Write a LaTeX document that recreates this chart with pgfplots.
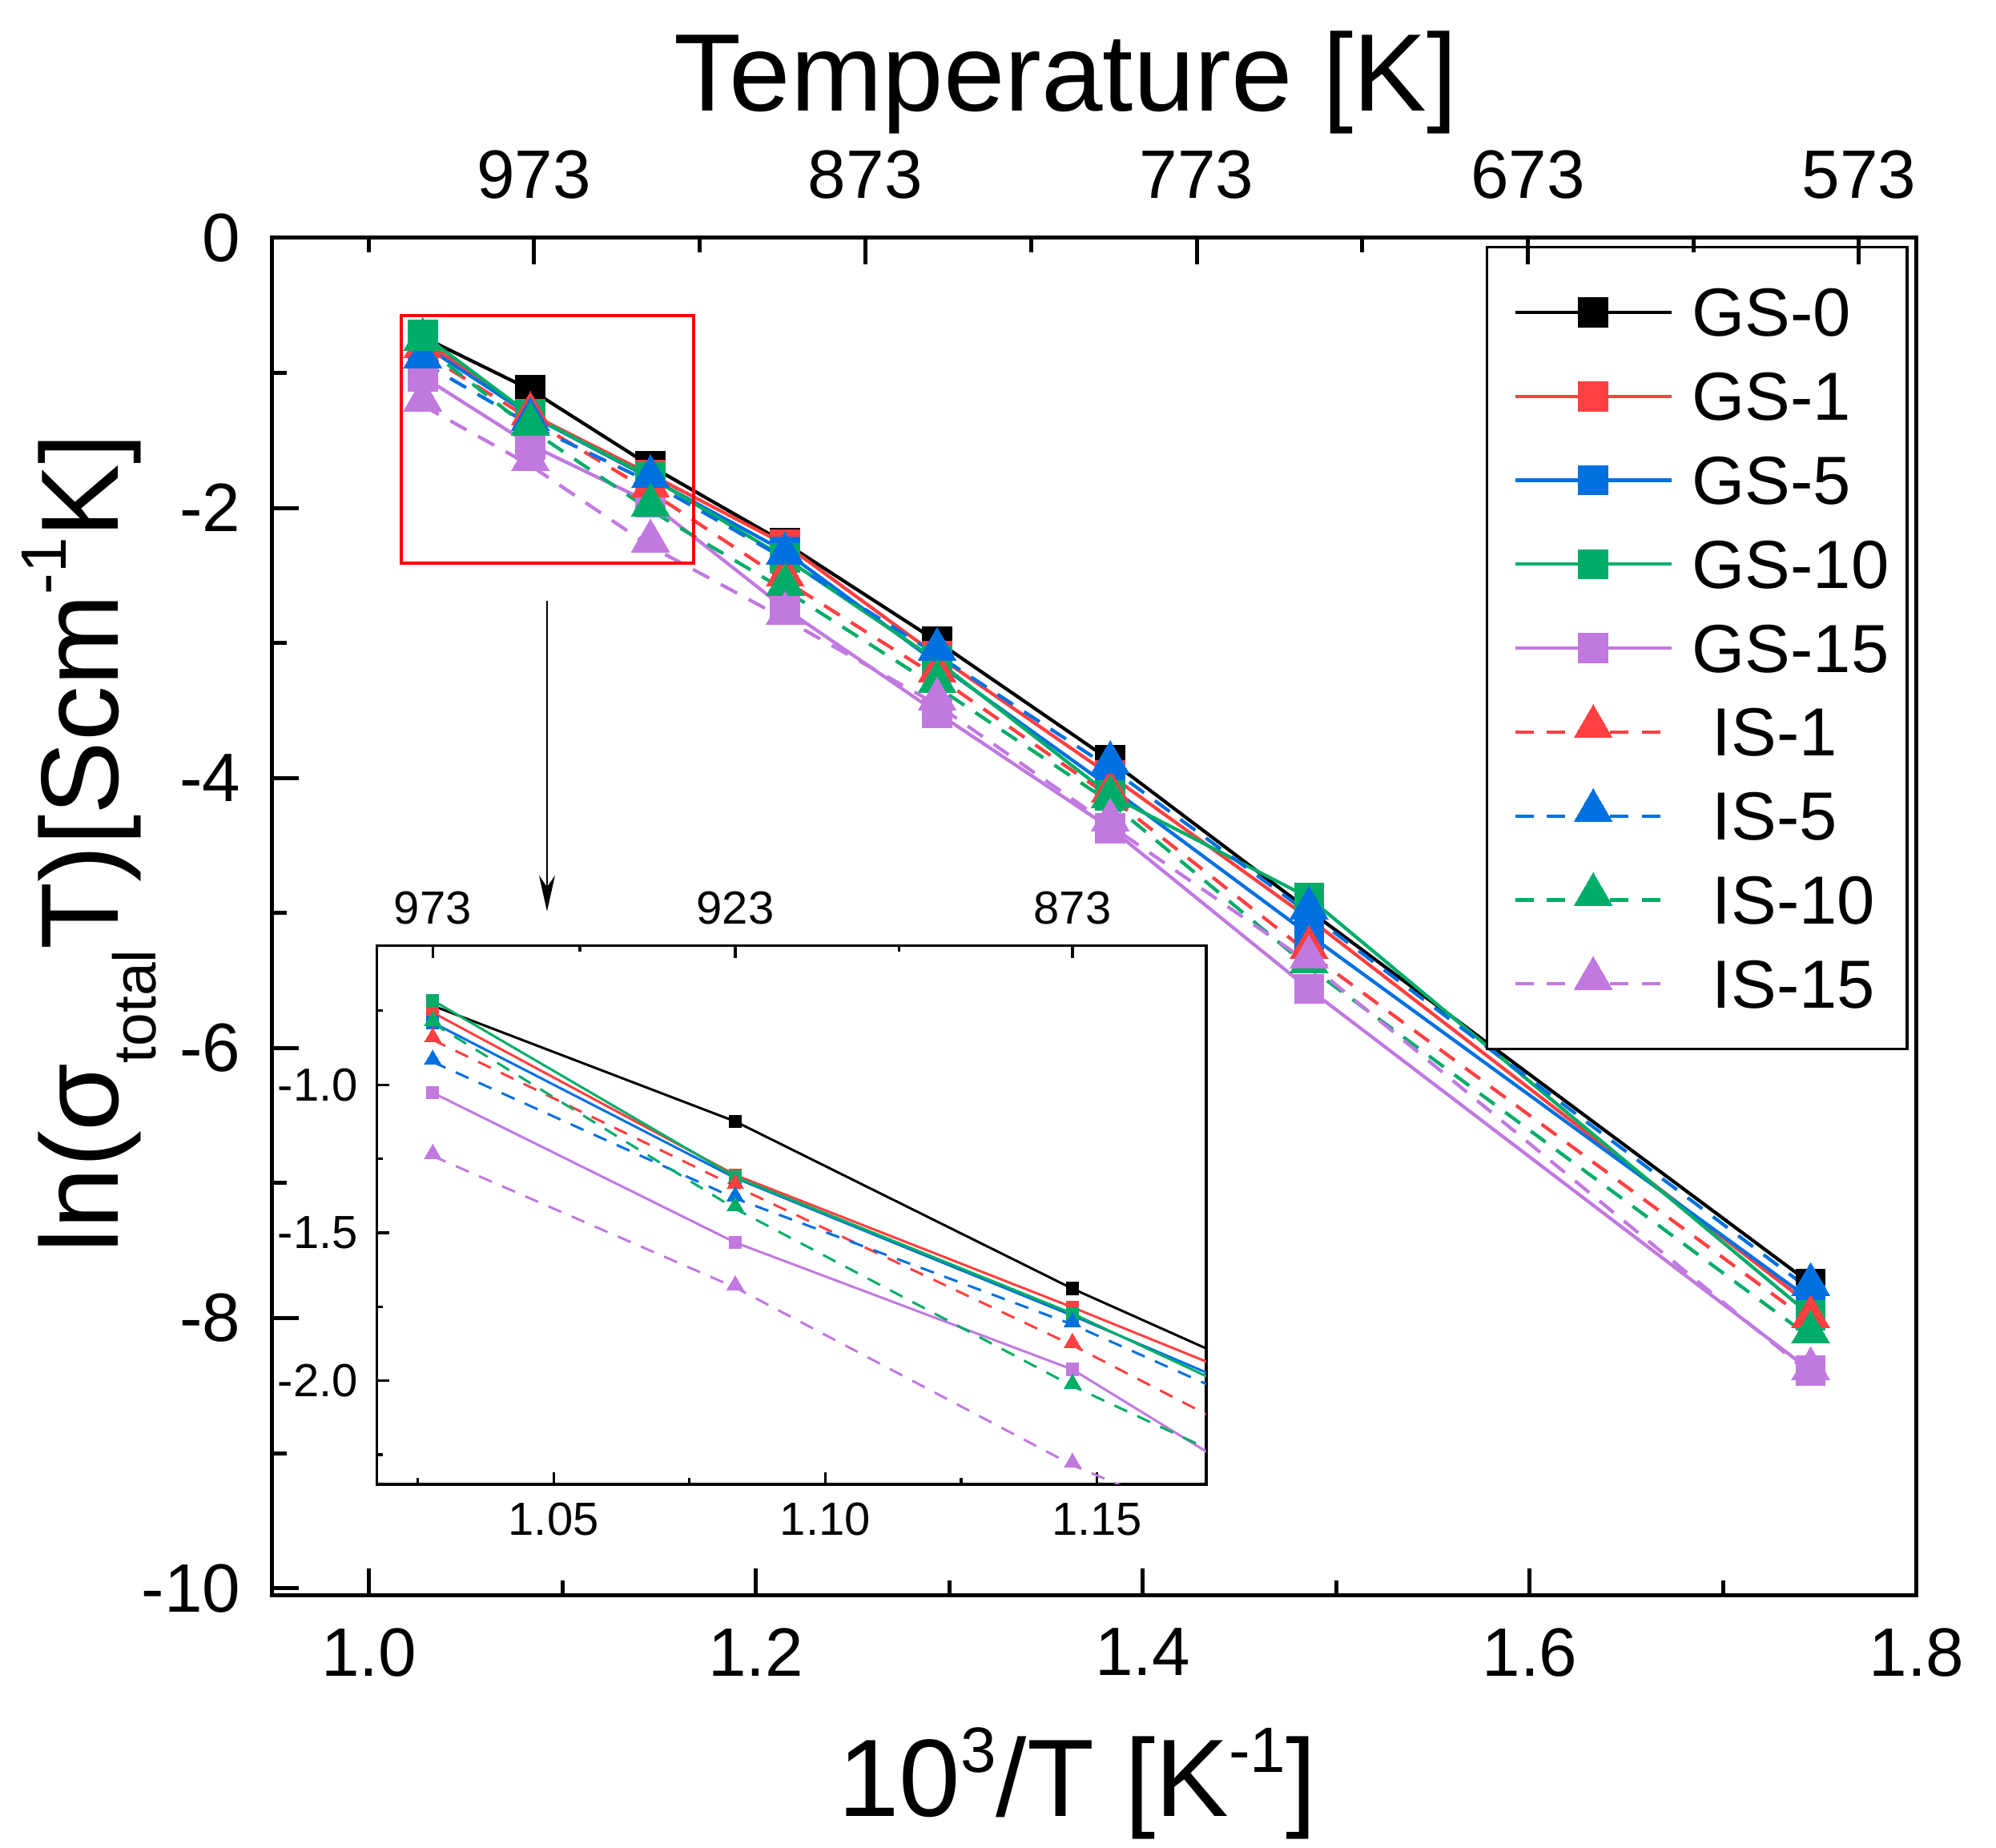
\documentclass[border=0pt]{standalone}
\usepackage{pgfplots}
\pgfplotsset{compat=1.18}
\usepackage{pgfplotstable}
\usetikzlibrary{arrows.meta}
\usepackage{fontspec}
\setmainfont{Liberation Sans}

\definecolor{cblack}{RGB}{0,0,0}
\definecolor{cred}{RGB}{255,64,64}
\definecolor{cblue}{RGB}{0,112,224}
\definecolor{cgreen}{RGB}{0,173,104}
\definecolor{cpurple}{RGB}{193,121,224}

\newcommand\sups[2]{\raisebox{#1}{\fontsize{16pt}{16pt}\selectfont #2}}

% 10^3/T and ln(sigma T) for the nine samples
\pgfplotstableread{
x       GS0    GS1    GS5    GS10   GS15   IS1    IS5    IS10   IS15
1.02775 -0.733 -0.756 -0.790 -0.715 -1.027 -0.848 -0.923 -0.792 -1.241
1.08342 -1.124 -1.305 -1.315 -1.311 -1.533 -1.343 -1.384 -1.419 -1.685
1.14548 -1.689 -1.752 -1.780 -1.773 -1.962 -1.880 -1.810 -2.018 -2.285
1.21507 -2.260 -2.270 -2.323 -2.371 -2.746 -2.539 -2.378 -2.610 -2.823
1.29366 -2.988 -3.094 -3.150 -3.132 -3.517 -3.250 -3.088 -3.327 -3.458
1.38313 -3.869 -3.980 -4.069 -4.128 -4.371 -4.140 -3.926 -4.180 -4.352
1.48588 -4.980 -5.040 -5.160 -4.887 -5.563 -5.297 -5.004 -5.403 -5.368
1.74520 -7.744 -7.906 -7.865 -7.980 -8.390 -8.030 -7.792 -8.145 -8.415
}\ratedata

\pgfplotsset{
  gs/.style={solid, line width=0.85pt, mark=square*, mark size=3.65pt,
    mark options={solid, line width=0pt}},
  is/.style={dash pattern=on 4.6pt off 3.3pt, line width=0.85pt, mark=triangle*,
    mark size=5.5pt, mark options={solid, line width=0pt, yshift=1.375pt}},
  gsi/.style={solid, line width=0.6pt, mark=square*, mark size=1.55pt,
    mark options={solid, line width=0pt}},
  isi/.style={dash pattern=on 3.5pt off 2.8pt, line width=0.6pt, mark=triangle*,
    mark size=2.4pt, mark options={solid, line width=0pt, yshift=0.6pt}},
}

\begin{document}
\begin{tikzpicture}
\useasboundingbox (-68pt,-63pt) rectangle (430.4pt,398.2pt);

% main axis
\begin{axis}[
  at={(0pt,0pt)}, anchor=south west,
  scale only axis, width=410.6pt, height=338.8pt,
  xmin=0.95, xmax=1.8, ymin=-10.05, ymax=0,
  xtick={1.0,1.2,1.4,1.6,1.8}, minor xtick={1.1,1.3,1.5,1.7},
  ytick={-10,-8,-6,-4,-2,0}, minor ytick={-9,-7,-5,-3,-1},
  xtick pos=left, ytick pos=left, tick align=inside,
  major tick length=6.6pt, minor tick length=3.6pt,
  tick style={black, line width=1pt},
  axis line style={line width=1pt},
  /pgf/number format/assume math mode=true,
  ticklabel style={font=\fontsize{17.1pt}{20pt}\selectfont, inner sep=0pt},
  xticklabel style={yshift=-8.2pt, /pgf/number format/.cd, fixed, fixed zerofill, precision=1},
  yticklabel style={xshift=-7.7pt},
  xlabel={10\sups{11pt}{3}/T [K\sups{11pt}{-1}]},
  xlabel style={font=\fontsize{27.5pt}{32pt}\selectfont, at={(axis description cs:0.4895,-0.1635)}, anchor=base},
  ylabel={ln(σ\raisebox{-9.5pt}{\fontsize{15pt}{15pt}\selectfont total}T)[Scm\sups{13pt}{-1}K]},
  ylabel style={font=\fontsize{27.5pt}{32pt}\selectfont, at={(axis description cs:-0.0938,0.5537)}, anchor=base},
  legend image code/.code={\path (0pt,0pt); \draw[mark repeat=2,mark phase=2] plot coordinates {(2.1pt,0pt) (21.6pt,0pt) (41.1pt,0pt)};},
  legend style={at={(rel axis cs:0.7379,0.9942)}, anchor=north west,
    draw=black, line width=0.65pt, inner xsep=4.5pt, inner ysep=9.3pt,
    row sep=6.96pt, column sep=4.8pt,
    font=\fontsize{17pt}{20pt}\selectfont,
    nodes={inner sep=0pt, text height=13pt, text depth=1pt},
    cells={anchor=west}},
]
\addplot[gs, color=cblack]  table[x=x, y=GS0]  \ratedata;
\addplot[gs, color=cred]    table[x=x, y=GS1]  \ratedata;
\addplot[gs, color=cblue]   table[x=x, y=GS5]  \ratedata;
\addplot[gs, color=cgreen]  table[x=x, y=GS10] \ratedata;
\addplot[gs, color=cpurple] table[x=x, y=GS15] \ratedata;
\addplot[is, color=cred]    table[x=x, y=IS1]  \ratedata;
\addplot[is, color=cblue]   table[x=x, y=IS5]  \ratedata;
\addplot[is, color=cgreen]  table[x=x, y=IS10] \ratedata;
\addplot[is, color=cpurple] table[x=x, y=IS15] \ratedata;
\legend{GS-0, GS-1, GS-5, GS-10, GS-15, \hspace{5pt}IS-1, \hspace{5pt}IS-5, \hspace{5pt}IS-10, \hspace{5pt}IS-15}

\draw[red, line width=0.8pt] (axis cs:1.0165,-0.577) rectangle (axis cs:1.1678,-2.408);
\draw[line width=0.4pt, -{Stealth[length=9pt, width=4pt]}] (axis cs:1.092,-2.687) -- (axis cs:1.092,-4.988);
\end{axis}

% top temperature axis of the main plot
\begin{axis}[
  at={(0pt,0pt)}, anchor=south west,
  scale only axis, width=410.6pt, height=338.8pt,
  xmin=0.95, xmax=1.8, ymin=0, ymax=1,
  axis x line*=top, hide y axis,
  xtick={1.0853,1.2565,1.4278,1.5990,1.7702},
  xticklabels={973,873,773,673,573},
  minor xtick={0.9997,1.1709,1.3421,1.5134,1.6846},
  tick align=inside,
  major tick length=6.6pt, minor tick length=3.6pt,
  tick style={black, line width=1pt},
  axis line style={line width=1pt},
  ticklabel style={font=\fontsize{17.1pt}{20pt}\selectfont, inner sep=0pt},
  xticklabel style={yshift=9.6pt},
  xlabel={Temperature [K]},
  xlabel style={font=\fontsize{27.5pt}{32pt}\selectfont, at={(axis description cs:0.4827,1.0933)}, anchor=base},
]
\end{axis}

% inset
\begin{axis}[
  at={(26.14pt,27.6pt)}, anchor=south west,
  scale only axis, width=207.06pt, height=134.5pt,
  axis background/.style={fill=white},
  xmin=1.0175, xmax=1.1701, ymin=-2.35, ymax=-0.53,
  xtick={1.05,1.10,1.15}, minor xtick={1.025,1.075,1.125},
  ytick={-2.0,-1.5,-1.0}, minor ytick={-2.25,-1.75,-1.25,-0.75},
  xtick pos=left, ytick pos=left, tick align=inside,
  major tick length=3pt, minor tick length=1.5pt,
  tick style={black, line width=0.65pt},
  axis line style={line width=0.7pt},
  /pgf/number format/assume math mode=true,
  ticklabel style={font=\fontsize{11.6pt}{14pt}\selectfont, inner sep=0pt},
  xticklabel style={yshift=-4.5pt, /pgf/number format/.cd, fixed, fixed zerofill, precision=2},
  yticklabel style={xshift=-4.6pt, /pgf/number format/.cd, fixed, fixed zerofill, precision=1},
]
\addplot[gsi, color=cblack]  table[x=x, y=GS0]  \ratedata;
\addplot[gsi, color=cred]    table[x=x, y=GS1]  \ratedata;
\addplot[gsi, color=cblue]   table[x=x, y=GS5]  \ratedata;
\addplot[gsi, color=cgreen]  table[x=x, y=GS10] \ratedata;
\addplot[gsi, color=cpurple] table[x=x, y=GS15] \ratedata;
\addplot[isi, color=cred]    table[x=x, y=IS1]  \ratedata;
\addplot[isi, color=cblue]   table[x=x, y=IS5]  \ratedata;
\addplot[isi, color=cgreen]  table[x=x, y=IS10] \ratedata;
\addplot[isi, color=cpurple] table[x=x, y=IS15] \ratedata;
\end{axis}

% top temperature axis of the inset
\begin{axis}[
  at={(26.14pt,27.6pt)}, anchor=south west,
  scale only axis, width=207.06pt, height=134.5pt,
  xmin=1.0175, xmax=1.1701, ymin=0, ymax=1,
  axis x line*=top, hide y axis,
  xtick={1.02775,1.08342,1.14548}, xticklabels={973,923,873},
  minor xtick={1.05485,1.11359},
  tick align=inside,
  major tick length=3pt, minor tick length=1.5pt,
  tick style={black, line width=0.65pt},
  axis line style={line width=0.7pt},
  ticklabel style={font=\fontsize{11.6pt}{14pt}\selectfont, inner sep=0pt},
  xticklabel style={yshift=5.1pt},
]
\end{axis}
\end{tikzpicture}
\end{document}
